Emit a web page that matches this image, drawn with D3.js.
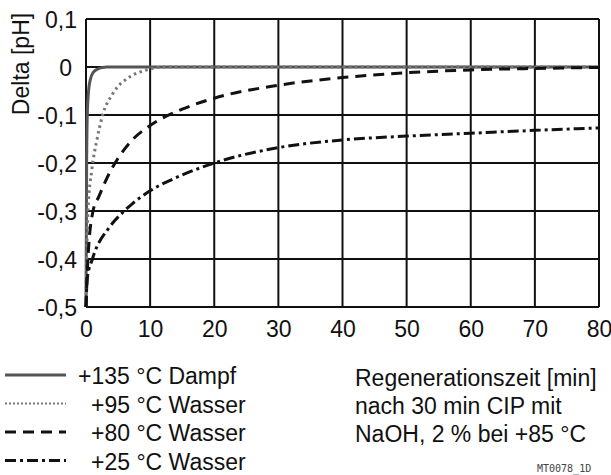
<!DOCTYPE html>
<html>
<head>
<meta charset="utf-8">
<script src="https://cdn.jsdelivr.net/npm/d3@7"></script>
<style>
  html, body { margin: 0; padding: 0; background: #fff; }
  svg { display: block; font-family: "Liberation Sans", Arial, sans-serif; }
</style>
</head>
<body>
<svg id="chart" width="611" height="475"></svg>
<script>
// x in minutes, y in delta pH
var xTicks = [0, 10, 20, 30, 40, 50, 60, 70, 80];
var yTicks = [0.1, 0, -0.1, -0.2, -0.3, -0.4, -0.5];
var yTickLabels = ['0,1', '0', '-0,1', '-0,2', '-0,3', '-0,4', '-0,5'];

var dampf135 = [[0, -0.5], [0.1, -0.2], [0.2, -0.1], [0.4, -0.05], [0.7, -0.025], [1.1, -0.012], [1.7, -0.005], [2.6, -0.001], [3.2, 0], [80, 0]];
var wasser95 = [[0, -0.5], [0.1, -0.4], [0.3, -0.3], [0.9, -0.215], [1.7, -0.152], [2.6, -0.1], [4.2, -0.055], [6.9, -0.02], [9.5, -0.006], [12, 0], [80, 0]];
var wasser80 = [[0, -0.5], [0.3, -0.4], [1.1, -0.3], [2, -0.27], [3.5, -0.225], [5, -0.19], [7, -0.155], [10, -0.122], [15, -0.088], [20, -0.065], [30, -0.038], [40, -0.022], [50, -0.012], [60, -0.006], [70, -0.003], [80, -0.001]];
var wasser25 = [[0, -0.5], [0.2, -0.44], [1, -0.4], [3.7, -0.333], [5.8, -0.302], [7.3, -0.284], [10, -0.258], [15, -0.225], [20, -0.2], [30, -0.168], [40, -0.152], [50, -0.144], [60, -0.138], [70, -0.132], [80, -0.127]];

var seriesLabels = ['+135 °C Dampf', '+95 °C Wasser', '+80 °C Wasser', '+25 °C Wasser'];
var infoLines = ['Regenerationszeit [min]', 'nach 30 min CIP mit', 'NaOH, 2 % bei +85 °C'];

var styles = [
    {color: '#555', dash: null},
    {color: '#777', dash: '2.5,3.5'},
    {color: '#111', dash: '11,7'},
    {color: '#111', dash: '11,4,3,4'}
];
var series = [dampf135, wasser95, wasser80, wasser25];

var svg = d3.select('#chart');
var x = d3.scaleLinear().domain([0, 80]).range([86, 599]);
var y = d3.scaleLinear().domain([-0.5, 0.1]).range([307, 19]);

// grid
var grid = svg.append('g').attr('stroke', '#111').attr('stroke-width', 2);
grid.selectAll('line.v').data(xTicks).enter().append('line')
    .attr('x1', function(d) { return x(d); }).attr('x2', function(d) { return x(d); })
    .attr('y1', y(0.1)).attr('y2', y(-0.5));
grid.selectAll('line.h').data(yTicks).enter().append('line')
    .attr('y1', function(d) { return y(d); }).attr('y2', function(d) { return y(d); })
    .attr('x1', x(0)).attr('x2', x(80));

// axes (labels only)
var xAxis = svg.append('g').attr('transform', 'translate(0,' + y(-0.5) + ')')
    .call(d3.axisBottom(x).tickValues(xTicks).tickSize(0).tickPadding(14).tickFormat(d3.format('d')));
var yAxis = svg.append('g').attr('transform', 'translate(' + x(0) + ',0)')
    .call(d3.axisLeft(y).tickValues(yTicks).tickSize(0).tickPadding(9)
        .tickFormat(function(d, i) { return yTickLabels[i]; }));
[xAxis, yAxis].forEach(function(a) {
    a.select('.domain').remove();
    a.selectAll('text').attr('font-size', 23).attr('fill', '#111')
        .attr('font-family', '"Liberation Sans", Arial, sans-serif');
});
yAxis.selectAll('text').attr('dy', '0.35em')
    .attr('dx', function(d) { return d === 0 ? -5 : 0; });
xAxis.selectAll('text').attr('dy', '0.71em');

svg.append('text')
    .attr('transform', 'translate(29,64) rotate(-90)')
    .attr('text-anchor', 'middle').attr('font-size', 23).attr('fill', '#111')
    .text('Delta [pH]');

// curves
var line = d3.line()
    .x(function(d) { return x(d[0]); })
    .y(function(d) { return y(d[1]); })
    .curve(d3.curveMonotoneX);

svg.selectAll('path.curve').data(series).enter().append('path')
    .attr('class', 'curve')
    .attr('d', line)
    .attr('fill', 'none')
    .attr('stroke', function(d, i) { return styles[i].color; })
    .attr('stroke-width', 3)
    .attr('stroke-dasharray', function(d, i) { return styles[i].dash; });

// legend
var legend = svg.append('g');
var rows = legend.selectAll('g').data(seriesLabels).enter().append('g')
    .attr('transform', function(d, i) { return 'translate(0,' + (375 + i * 28.5) + ')'; });
rows.append('line')
    .attr('x1', 5).attr('x2', 66).attr('y1', 0).attr('y2', 0)
    .attr('stroke', function(d, i) { return styles[i].color; })
    .attr('stroke-width', function(d, i) { return i === 1 ? 2 : 3; })
    .attr('stroke-dasharray', function(d, i) { return i === 1 ? '2,2' : styles[i].dash; });
rows.append('text')
    .attr('x', function(d, i) { return i === 0 ? 78 : 91; })
    .attr('y', 9)
    .attr('font-size', 23).attr('fill', '#111')
    .text(function(d) { return d; });

svg.append('g').selectAll('text').data(infoLines).enter().append('text')
    .attr('x', 355)
    .attr('y', function(d, i) { return 386 + i * 28; })
    .attr('font-size', 23).attr('fill', '#111')
    .text(function(d) { return d; });

svg.append('text')
    .attr('x', 537).attr('y', 472)
    .attr('font-family', '"DejaVu Sans Mono", monospace')
    .attr('font-size', 10).attr('fill', '#444')
    .text('MT0078_1D');
</script>
</body>
</html>
